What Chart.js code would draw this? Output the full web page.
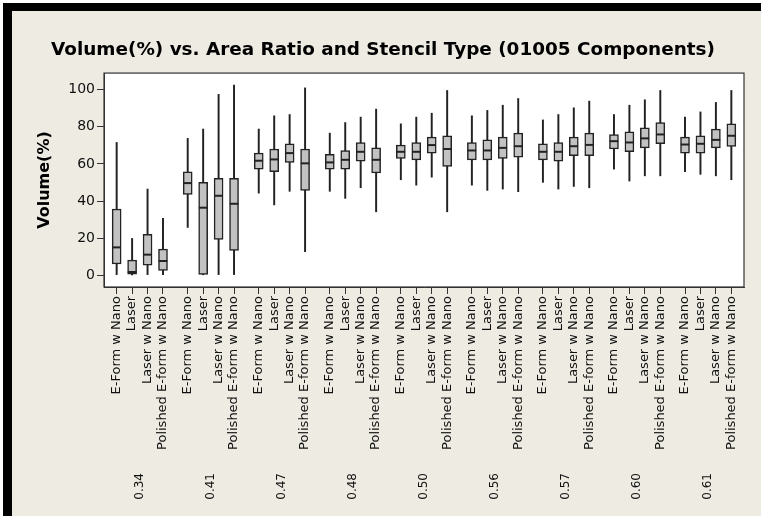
<!DOCTYPE html>
<html>
<head>
<meta charset="utf-8">
<script src="https://cdn.jsdelivr.net/npm/chart.js@4/dist/chart.umd.min.js"></script>
<style>
  html, body { margin: 0; padding: 0; background: #ffffff; }
  #wrap { width: 761px; height: 516px; position: relative; }
</style>
</head>
<body>
<div id="wrap"><canvas id="c" width="761" height="516"></canvas></div>
<script>
const TITLE = 'Volume(%) vs. Area Ratio and Stencil Type (01005 Components)';
const Y_TITLE = 'Volume(%)';
const AREA_RATIOS = ['0.34', '0.41', '0.47', '0.48', '0.50', '0.56', '0.57', '0.60', '0.61'];
const STENCILS = ['E-Form w Nano', 'Laser', 'Laser w Nano', 'Polished E-form w Nano'];
const Y_TICKS = [0, 20, 40, 60, 80, 100];

// Box statistics, one entry per box: area ratio by area ratio, four stencil types each
const MIN = [
  0.6, 0.4, 0.6, 0.6,
  25.9, 0.5, 0.6, 0.6,
  44.3, 38.0, 45.3, 12.9,
  45.3, 41.5, 47.2, 34.3,
  51.5, 48.6, 52.9, 34.3,
  48.6, 45.8, 46.5, 45.1,
  50.1, 46.5, 47.9, 47.2,
  57.2, 50.8, 53.6, 53.6,
  55.8, 54.4, 53.6, 51.5
];
const Q1 = [
  6.3, 0.8, 5.7, 2.9,
  43.6, 0.7, 19.5, 13.6,
  57.2, 55.8, 60.8, 45.8,
  57.2, 57.2, 61.5, 55.1,
  62.9, 62.2, 65.8, 58.7,
  62.2, 62.2, 62.9, 63.6,
  62.2, 61.5, 64.4, 64.4,
  68.0, 66.5, 68.6, 70.8,
  65.8, 65.8, 68.6, 69.4
];
const MEDIAN = [
  15.2, 2.0, 11.3, 7.9,
  49.7, 36.5, 42.9, 38.6,
  61.7, 62.4, 65.8, 60.3,
  60.8, 62.2, 66.5, 62.2,
  66.5, 66.5, 70.1, 68.0,
  67.2, 67.2, 68.6, 69.5,
  66.5, 66.5, 69.5, 70.2,
  72.2, 71.5, 73.7, 75.8,
  70.4, 70.8, 72.9, 75.1
];
const Q3 = [
  35.8, 8.4, 22.2, 14.3,
  55.8, 50.1, 52.2, 52.2,
  65.8, 68.0, 70.8, 68.0,
  65.1, 67.2, 71.5, 68.6,
  70.1, 71.5, 74.4, 75.1,
  71.5, 72.9, 74.4, 76.5,
  70.8, 71.5, 74.4, 76.5,
  75.8, 77.2, 79.4, 82.2,
  74.4, 75.1, 78.7, 81.5
];
const MAX = [
  71.5, 20.0, 46.5, 30.8,
  73.7, 78.7, 97.3, 102.3,
  78.7, 85.8, 86.5, 100.8,
  76.5, 82.2, 85.1, 89.4,
  81.5, 85.1, 87.2, 99.4,
  85.8, 88.7, 91.5, 95.1,
  83.6, 86.5, 90.1, 93.7,
  86.5, 91.5, 94.4, 99.4,
  85.1, 87.9, 93.0, 99.4
];

// Layout of the x axis: boxes one unit apart, area-ratio groups separated by a wider gap
const GROUP_STEP = 4.6;
const EDGE = 0.82;
const POS = [];
AREA_RATIOS.forEach((_, g) => STENCILS.forEach((_, i) => POS.push(g * GROUP_STEP + i)));
const GROUP_CENTERS = AREA_RATIOS.map((_, g) => g * GROUP_STEP + (STENCILS.length - 1) / 2);
const X_MIN = -EDGE;
const X_MAX = (AREA_RATIOS.length - 1) * GROUP_STEP + (STENCILS.length - 1) + EDGE;

const FONT = "'DejaVu Sans', Verdana, sans-serif";
const INK = '#222222';
const BOX_FILL = '#c2c2c2';
const PANEL = '#eeebe2';

const frame = {
  id: 'frame',
  beforeDraw(chart) {
    const { ctx, width, height, chartArea: a } = chart;
    ctx.save();
    ctx.fillStyle = '#ffffff';
    ctx.fillRect(0, 0, width, height);
    ctx.fillStyle = '#000000';
    ctx.fillRect(3, 3, width - 3, 8);
    ctx.fillRect(3, 3, 9, height - 3);
    ctx.fillStyle = PANEL;
    ctx.fillRect(12, 11, width - 12, height - 11);
    ctx.fillStyle = '#ffffff';
    ctx.fillRect(a.left, a.top, a.right - a.left, a.bottom - a.top);
    ctx.restore();
  },
  afterDraw(chart) {
    const { ctx, chartArea: a } = chart;
    ctx.save();
    ctx.strokeStyle = '#333333';
    ctx.lineWidth = 1.2;
    ctx.strokeRect(a.left, a.top, a.right - a.left, a.bottom - a.top);
    ctx.restore();
  }
};

const whiskers = POS.map((x, k) => ({ x, y: [MIN[k], MAX[k]] }));
const boxes = POS.map((x, k) => ({ x, y: [Q1[k], Q3[k]] }));
const medians = POS.map((x, k) => ({ x, y: MEDIAN[k] }));

new Chart(document.getElementById('c'), {
  type: 'bar',
  data: {
    datasets: [
      {
        type: 'scatter', data: medians, order: 1,
        pointStyle: 'line', pointRadius: 4.3, pointHoverRadius: 4.3,
        borderColor: INK, backgroundColor: INK, pointBorderWidth: 2, borderWidth: 2
      },
      {
        data: boxes, order: 2, grouped: false, barThickness: 9,
        backgroundColor: BOX_FILL, borderColor: INK, borderWidth: 1.5, borderSkipped: false
      },
      {
        data: whiskers, order: 3, grouped: false, barThickness: 1.3,
        backgroundColor: INK, borderWidth: 0
      }
    ]
  },
  options: {
    responsive: false,
    animation: false,
    devicePixelRatio: 1,
    layout: { padding: { left: 22, right: 17, top: 0, bottom: 0 } },
    plugins: {
      legend: { display: false },
      tooltip: { enabled: false },
      title: {
        display: true, text: TITLE, color: '#000000',
        font: { family: FONT, size: 18.4, weight: 'bold' },
        padding: { top: 39.0, bottom: 12.0 }
      }
    },
    scales: {
      x: {
        type: 'linear', position: 'bottom', weight: 0,
        min: X_MIN, max: X_MAX, offset: false,
        grid: { display: true, drawOnChartArea: false, drawTicks: true, tickLength: 7, color: '#333333', offset: false },
        border: { display: true, color: '#333333' },
        ticks: {
          autoSkip: false, maxRotation: 90, minRotation: 90, padding: 2,
          color: '#111111', font: { family: FONT, size: 13 },
          callback: (v, i) => STENCILS[i % STENCILS.length]
        },
        afterBuildTicks: s => { s.ticks = POS.map(v => ({ value: v })); },
        afterFit: s => { s.height = 170; }
      },
      xg: {
        type: 'linear', position: 'bottom', weight: 1,
        min: X_MIN, max: X_MAX, offset: false,
        grid: { display: false, drawTicks: false, drawOnChartArea: false },
        border: { display: false },
        ticks: {
          autoSkip: false, maxRotation: 90, minRotation: 90, padding: 16,
          color: '#111111', font: { family: FONT, size: 12 },
          callback: (v, i) => AREA_RATIOS[i]
        },
        afterBuildTicks: s => { s.ticks = GROUP_CENTERS.map(v => ({ value: v })); },
        afterFit: s => { s.height = 59; }
      },
      y: {
        type: 'linear', position: 'left',
        min: -6.06, max: 108.74,
        grid: { drawOnChartArea: false, drawTicks: true, tickLength: 7, color: '#333333' },
        border: { display: true, color: '#333333' },
        ticks: { padding: 2, color: '#111111', font: { family: FONT, size: 14 } },
        afterBuildTicks: s => { s.ticks = Y_TICKS.map(v => ({ value: v })); },
        title: {
          display: true, text: Y_TITLE, color: '#000000',
          font: { family: FONT, size: 16, weight: 'bold' },
          padding: { top: 13.4, bottom: 0 }
        },
        afterFit: s => { s.width = 82; }
      }
    }
  },
  plugins: [frame]
});
</script>
</body>
</html>
